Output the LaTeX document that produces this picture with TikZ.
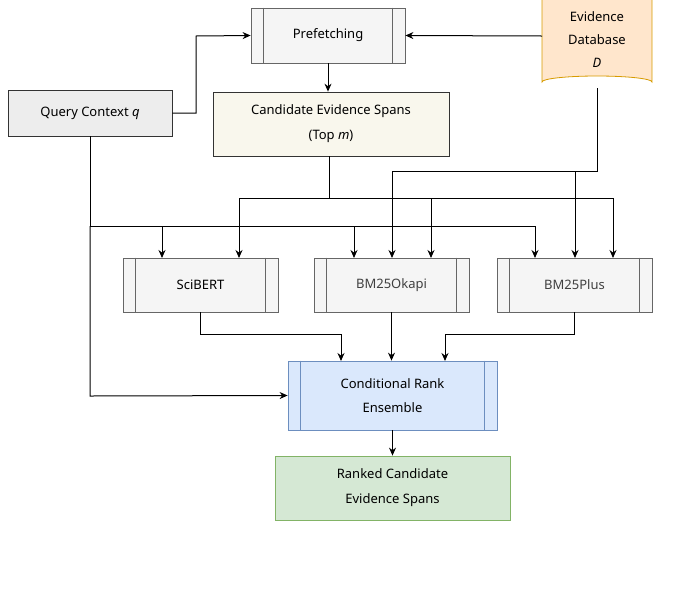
\documentclass[tikz,border=0pt]{standalone}
\usepackage{fontspec}
\setmainfont{Noto Sans}
\usetikzlibrary{arrows.meta}
\definecolor{grayf}{HTML}{F5F5F5}
\definecolor{grayd}{HTML}{666666}
\definecolor{dbf}{HTML}{FFE6CC}
\definecolor{dbd}{HTML}{D79B00}
\definecolor{cand}{HTML}{F9F7ED}
\definecolor{bluef}{HTML}{DAE8FC}
\definecolor{blued}{HTML}{6C8EBF}
\definecolor{greenf}{HTML}{D5E8D4}
\definecolor{greend}{HTML}{82B366}
\begin{document}
\begin{tikzpicture}[x=1pt,y=-1pt,font=\fontsize{13}{16}\selectfont,
  box/.style={draw,line width=0.8pt,inner sep=0pt,align=center},
  proc/.style={box,fill=grayf,draw=grayd},
  arr/.style={-{Stealth[length=8pt,width=7pt]},line width=1pt},
  ln/.style={line width=1pt}]
\useasboundingbox (0,0) rectangle (688,598);
% Evidence database cylinder (top cut off)
\fill[dbf] (542,-5) -- (542,82) arc[start angle=180,end angle=360,x radius=55,y radius=6] -- (652,-5) -- cycle;
\draw[dbd,line width=0.8pt] (542,-5) -- (542,82) arc[start angle=180,end angle=360,x radius=55,y radius=6] -- (652,-5);
\node[align=center,font=\fontsize{13}{23}\selectfont] (db) at (597,40) {Evidence\\Database\\\textit{D}};
\coordinate (dbL) at (542,36);
\coordinate (dbB) at (597,88);
% nodes
\node[proc,minimum width=154pt,minimum height=55pt] (pre) at (328,35.5) {Prefetching};
\node[box,fill=grayf!60!white!95!black,draw=black!80,minimum width=164pt,minimum height=46pt] (q) at (90,113) {Query Context \textit{q}};
\node[box,fill=cand,draw=black!80,minimum width=236pt,minimum height=64pt,font=\fontsize{13}{25}\selectfont] (cand) at (331,124) {Candidate Evidence Spans\\(Top \textit{m})};
\node[proc,minimum width=155pt,minimum height=54pt] (sci) at (200.5,285) {SciBERT};
\node[proc,minimum width=155pt,minimum height=54pt,text=black!75] (oka) at (391.5,285) {BM25Okapi};
\node[proc,minimum width=155pt,minimum height=54pt,text=black!75] (plus) at (574.5,285) {BM25Plus};
\node[box,fill=bluef,draw=blued,minimum width=209pt,minimum height=69pt,font=\fontsize{13}{24}\selectfont] (ens) at (392.5,395.5) {Conditional Rank\\Ensemble};
\node[box,fill=greenf,draw=greend,minimum width=235pt,minimum height=64pt,font=\fontsize{13}{25}\selectfont] (rank) at (392.5,488) {Ranked Candidate\\Evidence Spans};
% inner bars
\foreach \n/\c in {pre/grayd,sci/grayd,oka/grayd,plus/grayd,ens/blued}{
  \draw[\c,line width=0.8pt] ([xshift=13pt]\n.north west) -- ([xshift=13pt]\n.south west);
  \draw[\c,line width=0.8pt] ([xshift=-13pt]\n.north east) -- ([xshift=-13pt]\n.south east);}
% connectors
\draw[arr] (q.east) -- (196,113) -- (196,36) -- (pre.west);
\draw[arr] (dbL) -- (pre.east);
\draw[arr] (pre.south) -- (pre.south |- cand.north);
\draw[ln] (cand.south -| 329,0) -- (329,198);
\draw[ln] (239,198) -- (613,198);
\draw[arr] (239,198) -- (239,258);
\draw[arr] (431,198) -- (431,258);
\draw[arr] (613,198) -- (613,258);
\draw[ln] (dbB) -- (597,171) -- (392,171);
\draw[arr] (392,171) -- (392,258);
\draw[arr] (575,171) -- (575,258);
\draw[ln] (q.south) -- (90,226) -- (535,226);
\draw[arr] (162,226) -- (162,258);
\draw[arr] (354,226) -- (354,258);
\draw[arr] (535,226) -- (535,258);
\draw[arr] (90,226) -- (90,396) -- (ens.west);
\draw[arr] (sci.south) -- (200.5,334) -- (341,334) -- (341,361);
\draw[arr] (oka.south) -- (ens.north -| oka.south);
\draw[arr] (plus.south) -- (574.5,334) -- (445,334) -- (445,361);
\draw[arr] (ens.south) -- (rank.north);
\end{tikzpicture}
\end{document}
